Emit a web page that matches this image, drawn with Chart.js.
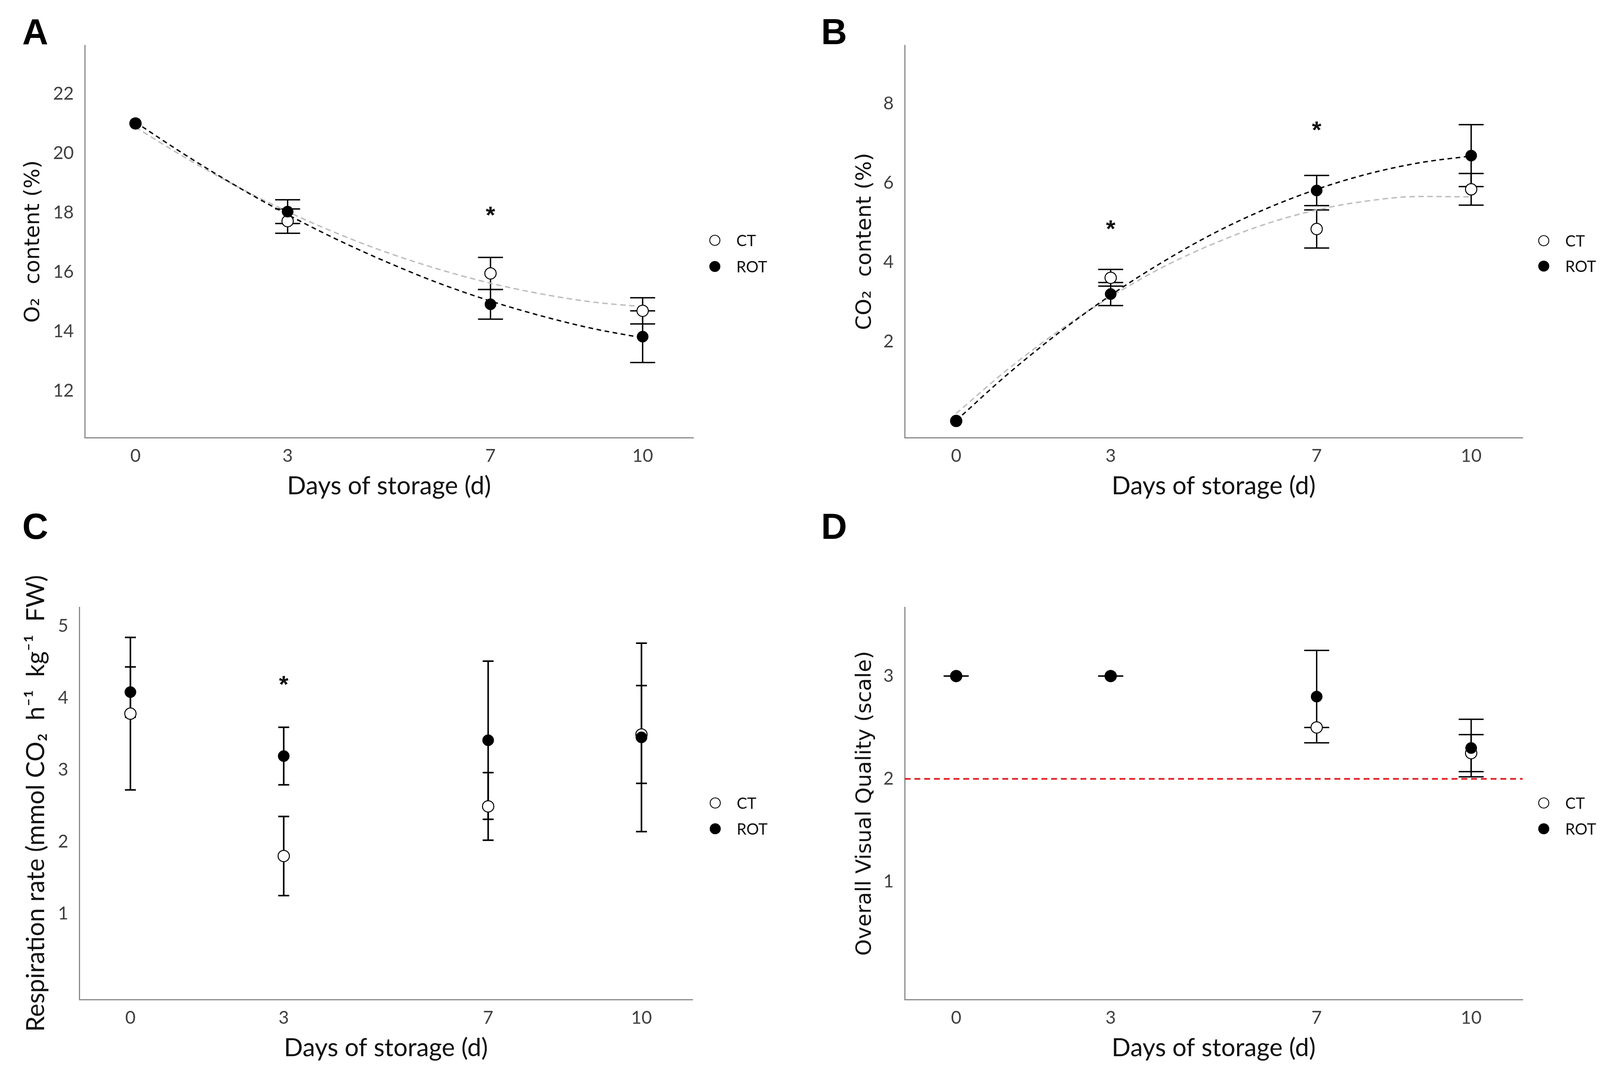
<!DOCTYPE html>
<html><head><meta charset="utf-8">
<script src="https://cdn.jsdelivr.net/npm/chart.js@4.4.1/dist/chart.umd.min.js"></script>
<style>
html,body{margin:0;padding:0;background:#fff;}
body{width:4131px;height:2746px;position:relative;overflow:hidden;}
canvas{position:absolute;}
</style></head><body>
<canvas id="cA" width="2065" height="1300" style="left:0;top:0"></canvas>
<canvas id="cB" width="2066" height="1300" style="left:2065px;top:0"></canvas>
<canvas id="cC" width="2065" height="1446" style="left:0;top:1300px"></canvas>
<canvas id="cD" width="2066" height="1446" style="left:2065px;top:1300px"></canvas>
<script>
// ---------- data ----------
const days = [0, 3, 7, 10];
const xTickValues = [0, 3, 7, 10];
const trendDays = [0, 1, 2, 3, 4, 5, 6, 7, 8, 9, 10];
const seriesNames = ['CT', 'ROT'];

// A: O2 content (%)
const o2CT = [21.0, 17.71, 15.95, 14.69];
const o2CTErr = [null, 0.41, 0.54, 0.44];
const o2ROT = [21.0, 18.03, 14.91, 13.82];
const o2ROTErr = [null, 0.40, 0.50, 0.87];
const o2CTTrend = [20.87, 19.83, 18.88, 18.03, 17.28, 16.63, 16.08, 15.62, 15.26, 14.99, 14.83];
const o2ROTTrend = [21.04, 19.92, 18.88, 17.93, 17.07, 16.30, 15.61, 15.02, 14.52, 14.10, 13.78];
const o2Ticks = [12, 14, 16, 18, 20, 22];
const o2StarDays = [7];
const o2StarLevels = [18.05];

// B: CO2 content (%)
const co2CT = [0.0, 3.61, 4.84, 5.84];
const co2CTErr = [null, 0.21, 0.48, 0.40];
const co2ROT = [0.0, 3.20, 5.81, 6.69];
const co2ROTErr = [null, 0.29, 0.38, 0.78];
const co2CTTrend = [0.19, 1.30, 2.28, 3.13, 3.87, 4.47, 4.96, 5.32, 5.55, 5.66, 5.65];
const co2ROTTrend = [0.01, 1.18, 2.23, 3.17, 4.00, 4.73, 5.34, 5.84, 6.23, 6.51, 6.68];
const co2Ticks = [2, 4, 6, 8];
const co2StarDays = [3, 7];
const co2StarLevels = [4.94, 7.44];

// C: Respiration rate
const rrCT = [3.78, 1.80, 2.49, 3.49];
const rrCTErr = [1.06, 0.55, 0.47, 0.68];
const rrROT = [4.08, 3.19, 3.41, 3.45];
const rrROTErr = [0.35, 0.40, 1.10, 1.31];
const rrTicks = [1, 2, 3, 4, 5];
const rrStarDays = [3];
const rrStarLevels = [4.24];

// D: Overall visual quality
const ovqCT = [3.0, 3.0, 2.50, 2.25];
const ovqCTErr = [0, 0, 0, 0.18];
const ovqROT = [3.0, 3.0, 2.80, 2.30];
const ovqROTErr = [0, 0, 0.45, 0.28];
const ovqTicks = [1, 2, 3];
const ovqLimit = 2;
const ovqStarDays = [];
const ovqStarLevels = [];

// ---------- plugins ----------
const errBarPlugin = {
  id: 'errbars',
  beforeDatasetsDraw(chart, args, opts) {
    const ctx = chart.ctx, xs = chart.scales.x, ys = chart.scales.y;
    ctx.save();
    ctx.strokeStyle = '#000';
    ctx.lineWidth = opts.width;
    ctx.lineCap = 'butt';
    chart.data.datasets.forEach(ds => {
      if (!ds.err) return;
      ds.data.forEach((pt, j) => {
        const e = ds.err[j];
        if (e === null || e === undefined) return;
        const x = xs.getPixelForValue(pt.x);
        const y1 = ys.getPixelForValue(pt.y + e);
        const y2 = ys.getPixelForValue(pt.y - e);
        const h = opts.cap / 2;
        ctx.beginPath();
        ctx.moveTo(x, y1); ctx.lineTo(x, y2);
        ctx.moveTo(x - h, y1); ctx.lineTo(x + h, y1);
        ctx.moveTo(x - h, y2); ctx.lineTo(x + h, y2);
        ctx.stroke();
      });
    });
    ctx.restore();
  }
};

function centeredText(ctx, text, x, cy) {
  ctx.textBaseline = 'alphabetic';
  const m = ctx.measureText(text);
  const base = cy + (m.actualBoundingBoxAscent - m.actualBoundingBoxDescent) / 2;
  ctx.fillText(text, x, base);
}

const decorPlugin = {
  id: 'decor',
  afterDraw(chart, args, o) {
    const ctx = chart.ctx, xs = chart.scales.x, ys = chart.scales.y;
    ctx.save();
    // significance asterisks
    ctx.fillStyle = '#111';
    ctx.font = 'bold 62px "Liberation Sans"';
    ctx.textAlign = 'center';
    o.starDays.forEach((d, i) => {
      centeredText(ctx, '*', xs.getPixelForValue(d), ys.getPixelForValue(o.starLevels[i]));
    });
    // legend
    ctx.textAlign = 'left';
    ctx.font = '40px Lato';
    seriesNames.forEach((name, i) => {
      const y = o.legend.y[i];
      ctx.beginPath();
      ctx.arc(o.legend.x, y, 13, 0, Math.PI * 2);
      ctx.fillStyle = name === 'CT' ? '#fff' : '#000';
      ctx.fill();
      ctx.lineWidth = 2.2;
      ctx.strokeStyle = '#000';
      ctx.stroke();
      ctx.fillStyle = '#111';
      const m = ctx.measureText('CT');
      const base = y + (m.actualBoundingBoxAscent - m.actualBoundingBoxDescent) / 2;
      ctx.fillText(name, o.legend.textX, base);
    });
    // panel letter
    ctx.fillStyle = '#000';
    ctx.font = 'bold 92px "Liberation Sans"';
    ctx.textBaseline = 'alphabetic';
    ctx.fillText(o.letter.text, o.letter.x, o.letter.y);
    ctx.restore();
  }
};

// ---------- builder ----------
function makePanel(id, p) {
  const canvas = document.getElementById(id);
  const W = canvas.width, H = canvas.height;
  const pts = (xs, ys) => xs.map((d, i) => ({x: d, y: ys[i]}));
  const datasets = [
    {label: 'ROT', data: pts(days, p.rot), err: p.rotErr, showLine: false,
     pointRadius: 14.5, pointHoverRadius: 14.5, pointBackgroundColor: '#000', pointBorderColor: '#000', pointBorderWidth: 1},
    {label: 'CT', data: pts(days, p.ct), err: p.ctErr, showLine: false,
     pointRadius: 14.5, pointHoverRadius: 14.5, pointBackgroundColor: '#fff', pointBorderColor: '#000', pointBorderWidth: 2.5}
  ];
  if (p.rotTrend) datasets.push({label: 'ROT fit', data: pts(trendDays, p.rotTrend), borderColor: '#000', borderWidth: 3.5,
    borderDash: [12, 9], pointRadius: 0, cubicInterpolationMode: 'monotone', fill: false});
  if (p.ctTrend) datasets.push({label: 'CT fit', data: pts(trendDays, p.ctTrend), borderColor: '#bdbdbd', borderWidth: 3.5,
    borderDash: [14, 9], pointRadius: 0, cubicInterpolationMode: 'monotone', fill: false});
  if (p.limit !== undefined) datasets.push({label: 'limit', data: [{x: -1, y: p.limit}, {x: 11, y: p.limit}],
    borderColor: '#e3262b', borderWidth: 4.5, borderDash: [15, 10], pointRadius: 0, fill: false});

  const xTitleSize = 64;
  const xLh = xTitleSize * 1.2, yLh = p.yTitleSize * 1.2;
  new Chart(canvas, {
    type: 'line',
    data: {datasets},
    options: {
      responsive: false, animation: false, devicePixelRatio: 1, events: [],
      layout: {padding: {left: 0, top: p.area.top, right: W - p.area.right, bottom: 0}},
      plugins: {
        legend: {display: false}, tooltip: {enabled: false},
        errbars: {width: p.barW, cap: p.cap},
        decor: {starDays: p.starDays, starLevels: p.starLevels, legend: p.legend, letter: p.letter}
      },
      scales: {
        x: {
          type: 'linear', min: -1, max: 11,
          afterBuildTicks: s => { s.ticks = xTickValues.map(v => ({value: v})); },
          afterFit: s => { s.height = H - p.area.bottom; },
          grid: {display: false},
          border: {display: true, color: '#8a8a8a', width: 3},
          ticks: {font: {family: 'Lato', size: 46}, color: '#404040', padding: 12, maxRotation: 0, autoSkip: false,
                  callback: v => String(v)},
          title: {display: true, text: 'Days of storage (d)', font: {family: 'Lato', size: xTitleSize}, color: '#111',
                  padding: {top: 0, bottom: H - xLh / 2 - p.xTitleY}}
        },
        y: {
          type: 'linear', min: p.yMin, max: p.yMax,
          afterBuildTicks: s => { s.ticks = p.yTicks.map(v => ({value: v})); },
          afterFit: s => { s.width = p.area.left; },
          grid: {display: false},
          border: {display: true, color: '#8a8a8a', width: 3},
          ticks: {font: {family: 'Lato', size: 46}, color: '#404040', padding: 20, autoSkip: false,
                  callback: v => String(v)},
          title: {display: true, text: p.yTitle, font: {family: p.yTitleFamily, size: p.yTitleSize}, color: '#111',
                  padding: {top: p.yTitleX - yLh / 2, bottom: 0}}
        }
      }
    },
    plugins: [errBarPlugin, decorPlugin]
  });
}

makePanel('cA', {
  area: {left: 217, right: 1775, top: 116, bottom: 1120},
  yMin: 10.42, yMax: 23.63, yTicks: o2Ticks,
  yTitle: 'O\u2082  content (%)', yTitleFamily: 'DejaVu Sans', yTitleSize: 54, yTitleX: 86, xTitleY: 1244,
  ct: o2CT, ctErr: o2CTErr, rot: o2ROT, rotErr: o2ROTErr, ctTrend: o2CTTrend, rotTrend: o2ROTTrend,
  starDays: o2StarDays, starLevels: o2StarLevels,
  legend: {x: 1830, y: [615, 682], textX: 1885}, letter: {text: 'A', x: 57, y: 113}, cap: 64, barW: 3.5
});
makePanel('cB', {
  area: {left: 251, right: 1833, top: 116, bottom: 1120},
  yMin: -0.42, yMax: 9.47, yTicks: co2Ticks,
  yTitle: 'CO\u2082  content (%)', yTitleFamily: 'DejaVu Sans', yTitleSize: 54, yTitleX: 150, xTitleY: 1244,
  ct: co2CT, ctErr: co2CTErr, rot: co2ROT, rotErr: co2ROTErr, ctTrend: co2CTTrend, rotTrend: co2ROTTrend,
  starDays: co2StarDays, starLevels: co2StarLevels,
  legend: {x: 1887, y: [616, 681], textX: 1942}, letter: {text: 'B', x: 37, y: 113}, cap: 64, barW: 3.5
});
makePanel('cC', {
  area: {left: 203, right: 1773, top: 254, bottom: 1258},
  yMin: -0.196, yMax: 5.26, yTicks: rrTicks,
  yTitle: 'Respiration rate (mmol CO\u2082  h\u207B\u00B9  kg\u207B\u00B9  FW)', yTitleFamily: 'Lato', yTitleSize: 64, yTitleX: 92, xTitleY: 1382,
  ct: rrCT, ctErr: rrCTErr, rot: rrROT, rotErr: rrROTErr,
  starDays: rrStarDays, starLevels: rrStarLevels,
  legend: {x: 1831, y: [755, 821], textX: 1886}, letter: {text: 'C', x: 57, y: 79}, cap: 28, barW: 4
});
makePanel('cD', {
  area: {left: 251, right: 1833, top: 254, bottom: 1258},
  yMin: -0.148, yMax: 3.67, yTicks: ovqTicks,
  yTitle: 'Overall Visual Quality (scale)', yTitleFamily: 'DejaVu Sans', yTitleSize: 54, yTitleX: 150, xTitleY: 1382,
  ct: ovqCT, ctErr: ovqCTErr, rot: ovqROT, rotErr: ovqROTErr, limit: ovqLimit,
  starDays: ovqStarDays, starLevels: ovqStarLevels,
  legend: {x: 1887, y: [755, 821], textX: 1942}, letter: {text: 'D', x: 37, y: 79}, cap: 64, barW: 3.5
});
</script>
</body></html>
